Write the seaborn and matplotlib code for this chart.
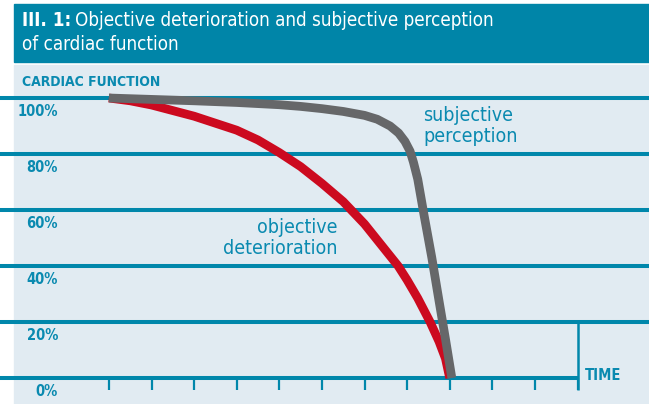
import matplotlib
matplotlib.use("Agg")
import matplotlib.pyplot as plt
from matplotlib.patches import Rectangle
import pandas as pd
import seaborn as sns

# values (x = time tick index, y = % cardiac function)
objective_t = [0.0, 0.5, 1.0, 1.5, 2.0, 2.5, 3.0, 3.5, 4.0, 4.5, 5.0, 5.5, 6.0, 6.5,
               6.79, 7.0, 7.25, 7.54, 7.75, 7.9, 8.0]
objective_y = [100, 99, 97.5, 95.5, 93.5, 91, 88.5, 85, 80.5, 75.5, 69.5, 63, 55, 45.5,
               40, 35, 28.5, 20, 13, 7, 0]

subjective_t = [0.0, 1.0, 2.0, 3.0, 4.0, 4.5, 5.0, 5.5, 6.0, 6.3, 6.6, 6.8, 6.95, 7.07,
                7.15, 7.25, 7.4, 7.58, 7.75, 7.9, 8.05]
subjective_y = [100, 99.5, 99, 98.4, 97.6, 97, 96.2, 95.2, 93.8, 92.4, 90, 87.5, 84.5, 81,
                77, 71, 58, 43, 27.5, 14, 0]

grid_levels = [0, 20, 40, 60, 80, 100]
y_labels = ["0%", "20%", "40%", "60%", "80%", "100%"]
time_ticks = list(range(12))

TEAL = "#0087ab"
TEXT = "#0a8ab0"
GREY = "#666769"
RED = "#cc0a1f"
PANEL = "#e1ebf2"

W, H = 649, 404


def fx(px):
    return px / W


def fy(py):
    return 1 - py / H


def main():
    sns.set_theme(style="white")
    plt.rcParams["font.family"] = ["DejaVu Sans"]
    plt.rcParams["font.stretch"] = "condensed"

    fig = plt.figure(figsize=(W / 100, H / 100), dpi=100)
    fig.patch.set_facecolor("white")

    ax = fig.add_axes([0, 0, 1, 1])
    ax.set_facecolor("none")
    x0, dx = 108.9, 42.6
    y0, dy = 378.0, 2.8
    ax.set_xlim((0 - x0) / dx, (W - x0) / dx)
    ax.set_ylim((y0 - H) / dy, y0 / dy)
    ax.axis("off")

    # title band and panel
    ax.add_patch(Rectangle((fx(14), fy(61.5)), 1 - fx(14), fy(4) - fy(61.5),
                           transform=fig.transFigure, color="#0085a8", zorder=0))
    ax.add_patch(Rectangle((fx(14), 0), 1 - fx(14), fy(64.5),
                           transform=fig.transFigure, color=PANEL, zorder=0))

    # grid lines
    for lv in grid_levels[1:]:
        ax.axhline(lv, color=TEAL, lw=2.9, zorder=1)
    ax.hlines(0, (0 - x0) / dx, 11, color=TEAL, lw=2.9, zorder=1)
    ax.vlines(time_ticks, -4.3, 0, color=TEAL, lw=1.6, zorder=1)
    ax.vlines(11, -4.3, 20, color=TEAL, lw=1.8, zorder=1)

    df = pd.concat([
        pd.DataFrame({"t": objective_t, "f": objective_y, "s": "objective"}),
        pd.DataFrame({"t": subjective_t, "f": subjective_y, "s": "subjective"}),
    ])
    sns.lineplot(data=df, x="t", y="f", hue="s", palette={"objective": RED, "subjective": GREY},
                 estimator=None, sort=False, legend=False, ax=ax, lw=6.3, zorder=3)
    for ln in ax.lines:
        ln.set_solid_capstyle("butt")
        ln.set_solid_joinstyle("round")
    ax.lines[-1].set_zorder(4)

    # y labels
    for lv, lab in zip(grid_levels, y_labels):
        ax.text((58 - x0) / dx, lv - 14 / dy, lab, ha="right", va="center",
                color=TEXT, fontsize=10.5, fontweight="bold")
    fig.text(fx(22), fy(82), "CARDIAC FUNCTION", ha="left", va="center",
             color=TEXT, fontsize=10, fontweight="bold")
    fig.text(fx(585), fy(376), "TIME", ha="left", va="center",
             color=TEXT, fontsize=10.5, fontweight="bold")

    fig.text(fx(423), fy(126), "subjective\nperception", ha="left", va="center",
             color=TEXT, fontsize=14, linespacing=1.15)
    fig.text(fx(337), fy(238), "objective\ndeterioration", ha="right", va="center",
             color=TEXT, fontsize=14, linespacing=1.15, multialignment="right")

    # title
    t1 = fig.text(fx(22), fy(20), "III. 1:", ha="left", va="center",
                  color="white", fontsize=13.5, fontweight="bold")
    fig.canvas.draw()
    bb = t1.get_window_extent()
    fig.text(bb.x1 / fig.bbox.width + fx(4), fy(20),
             "Objective deterioration and subjective perception",
             ha="left", va="center", color="white", fontsize=13.5)
    fig.text(fx(22), fy(44), "of cardiac function", ha="left", va="center",
             color="white", fontsize=13.5)

    fig.savefig("out.png", dpi=100)
    plt.close()


if __name__ == "__main__":
    main()
